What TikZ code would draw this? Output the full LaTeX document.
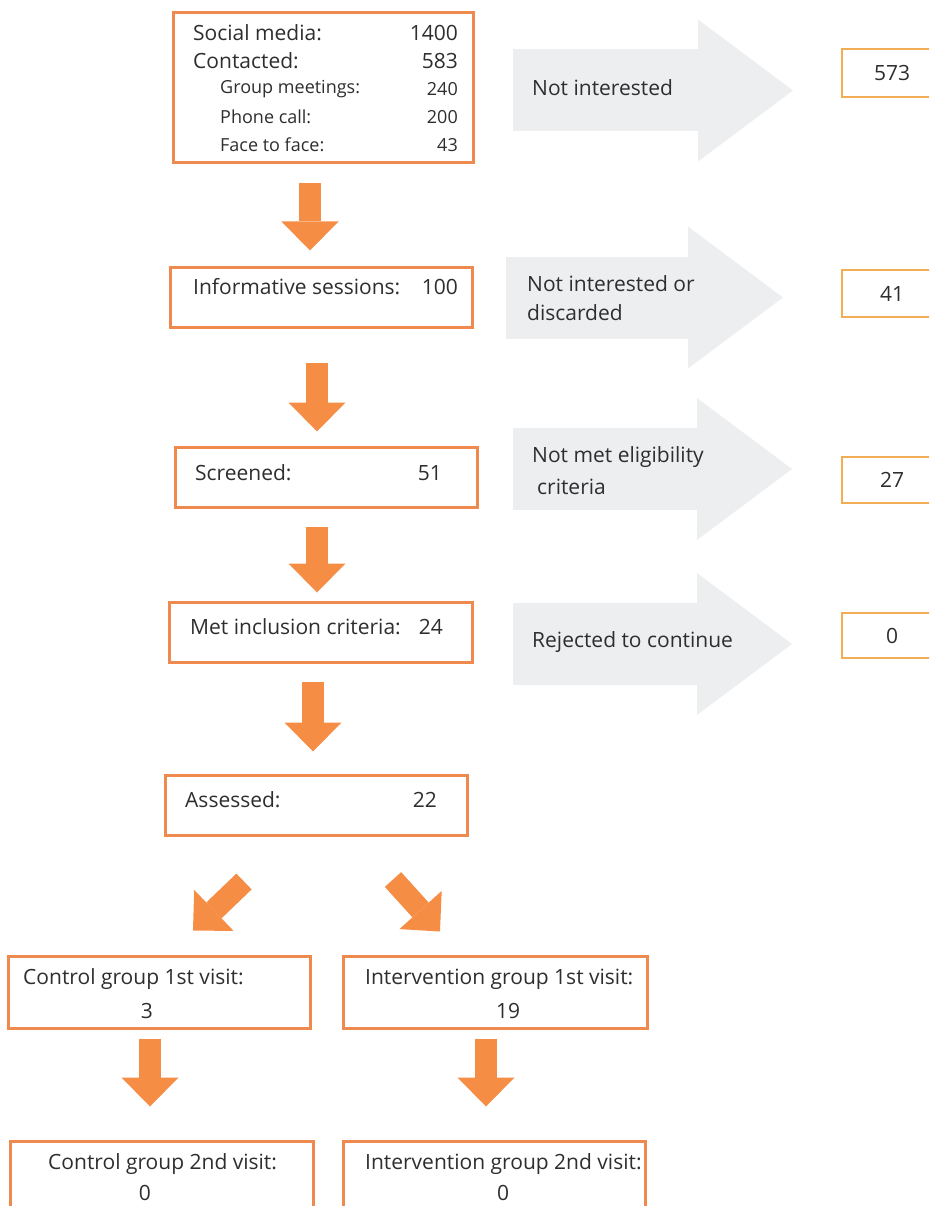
\documentclass[tikz,border=0pt]{standalone}
\usepackage{fontspec}
\setmainfont{Open Sans}
\usetikzlibrary{arrows.meta,calc}
\definecolor{boxorange}{HTML}{EE8A4E}
\definecolor{arroworange}{HTML}{F68D45}
\definecolor{rboxorange}{HTML}{F3AE55}
\definecolor{arrowgray}{HTML}{EDEEF0}
\definecolor{txt}{HTML}{2E2E2E}
\newcommand\fsz[1]{\fontsize{#1}{#1}\selectfont}
\tikzset{
  flowbox/.style={draw=boxorange, line width=3pt, inner sep=0pt, fill=white},
  sidebox/.style={draw=rboxorange, line width=2.5pt, inner sep=0pt, fill=white, text=txt, font=\fsz{21}},
  tl/.style={anchor=west, inner sep=0pt, text=txt, font=\fsz{21}},
  tr/.style={anchor=east, inner sep=0pt, text=txt, font=\fsz{21}},
  tc/.style={anchor=center, inner sep=0pt, text=txt, font=\fsz{21}},
  small/.style={font=\fsz{18}},
  orangearrow/.style={draw=arroworange, line width=22pt, -{Triangle[width=57pt,length=29pt,line width=0pt]}},
  grayarrow/.style={draw=arrowgray, line width=82pt, -{Triangle[width=142pt,length=95pt,line width=0pt]}}
}
\begin{document}
\begin{tikzpicture}[x=1pt,y=-1pt]
\useasboundingbox (0,0) rectangle (929,1206);
\clip (0,0) rectangle (929,1206);
% gray side arrows
\coordinate (g1a) at (513,90.5); \coordinate (g1b) at (793,90.5);
\coordinate (g2a) at (506,297.5); \coordinate (g2b) at (783,297.5);
\coordinate (g3a) at (513,469); \coordinate (g3b) at (792,469);
\coordinate (g4a) at (513,644); \coordinate (g4b) at (792,644);
\draw[grayarrow] (g1a) -- (g1b);
\draw[grayarrow] (g2a) -- (g2b);
\draw[grayarrow] (g3a) -- (g3b);
\draw[grayarrow] (g4a) -- (g4b);
\node[tl] (g1t) at (532,88) {Not interested};
\node[tl] (g2t) at (527,284) {Not interested or};
\node[tl] (g2u) at (527,313) {discarded};
\node[tl] (g3t) at (532,457) {Not met eligibility};
\node[tl] (g3u) at (537,487) {criteria};
\node[tl] (g4t) at (532,642) {Rejected to continue};
% main boxes
\node[flowbox, minimum width=300pt, minimum height=150pt] (top) at (323,88) {};
\node[flowbox, minimum width=302pt, minimum height=60pt] (info) at (321,297) {};
\node[flowbox, minimum width=302pt, minimum height=60pt] (scr) at (326,477) {};
\node[flowbox, minimum width=303pt, minimum height=60pt] (met) at (320.5,632) {};
\node[flowbox, minimum width=302pt, minimum height=60pt] (ass) at (316,805) {};
\node[flowbox, minimum width=302pt, minimum height=72pt] (c1) at (159,992) {};
\node[flowbox, minimum width=304pt, minimum height=72pt] (i1) at (495,992) {};
\node[flowbox, minimum width=303pt, minimum height=80pt] (c2) at (161.5,1181) {};
\node[flowbox, minimum width=302pt, minimum height=80pt] (i2) at (494,1181) {};
% side boxes
\node[sidebox, minimum width=100pt, minimum height=48pt] (r1) at (892,73) {573};
\node[sidebox, minimum width=100pt, minimum height=47pt] (r2) at (892,293.5) {41};
\node[sidebox, minimum width=100pt, minimum height=46pt] (r3) at (892,480) {27};
\node[sidebox, minimum width=100pt, minimum height=45pt] (r4) at (892,635.5) {0};
% texts
\node[tl] (t1) at (193,33) {Social media:};
\node[tr] (n1) at (458,33) {1400};
\node[tl] (t2) at (193,61) {Contacted:};
\node[tr] (n2) at (458,61) {583};
\node[tl,small] (t3) at (220,89) {Group meetings:};
\node[tr,small] (n3) at (458,89) {240};
\node[tl,small] (t4) at (220,117) {Phone call:};
\node[tr,small] (n4) at (458,117) {200};
\node[tl,small] (t5) at (220,145) {Face to face:};
\node[tr,small] (n5) at (458,145) {43};
\node[tl] (t6) at (193,287) {Informative sessions:};
\node[tr] (n6) at (458,287) {100};
\node[tl] (t7) at (195,473) {Screened:};
\node[tr] (n7) at (442,473) {51};
\node[tl] (t8) at (190,627) {Met inclusion criteria:};
\node[tr] (n8) at (443,627) {24};
\node[tl] (t9) at (185,800) {Assessed:};
\node[tr] (n9) at (437,800) {22};
\node[tl] (t10) at (23,979) {Control group 1st visit:};
\node[tc] (n10) at (147,1011) {3};
\node[tl] (t11) at (365,979) {Intervention group 1st visit:};
\node[tc] (n11) at (508,1011) {19};
\node[tl] (t12) at (48,1164) {Control group 2nd visit:};
\node[tc] (n12) at (145,1193) {0};
\node[tl] (t13) at (365,1164) {Intervention group 2nd visit:};
\node[tc] (n13) at (503,1193) {0};
% orange arrows
\draw[orangearrow] ($(top.south)+(-13,19)$) -- ($(info.north)+(-11,-15)$);
\draw[orangearrow] ($(info.south)+(-4,34)$) -- ($(scr.north)+(-9,-14)$);
\draw[orangearrow] ($(scr.south)+(-9,18)$) -- ($(met.north)+(-3.5,-8)$);
\draw[orangearrow] ($(met.south)+(-7.5,18)$) -- ($(ass.north)+(-3,-22)$);
\draw[orangearrow] ($(ass.south)+(-72,45)$) -- ($(c1.north)+(34,-24)$);
\draw[orangearrow] ($(ass.south)+(77,43)$) -- ($(i1.north)+(-55,-23)$);
\draw[orangearrow] ($(c1.south)+(-9,9)$) -- ($(c2.north)+(-11.5,-33)$);
\draw[orangearrow] ($(i1.south)+(-9,9)$) -- ($(i2.north)+(-8,-33)$);
\end{tikzpicture}
\end{document}
